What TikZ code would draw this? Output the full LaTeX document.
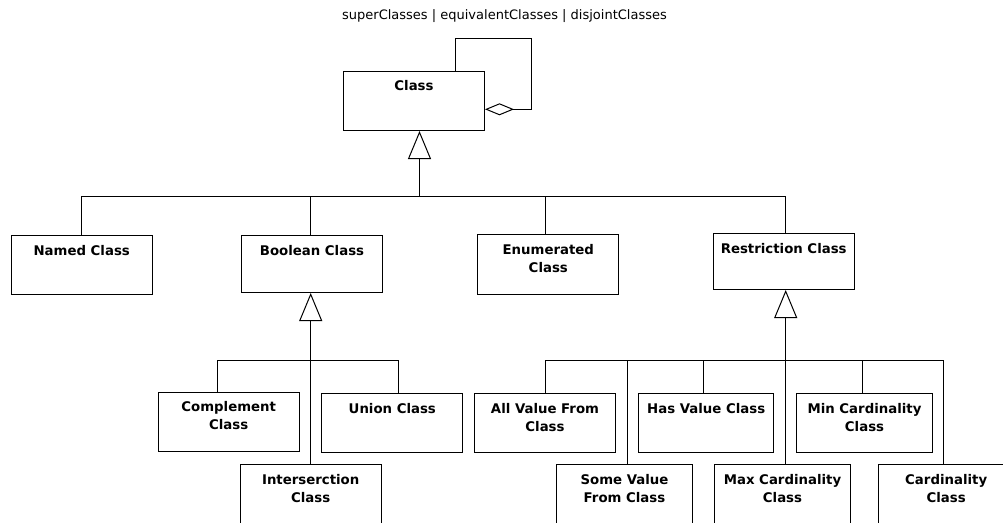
\documentclass[tikz,border=0pt]{standalone}
\usepackage{fontspec}
\newfontfamily\dvs{DejaVu Sans}
\usetikzlibrary{arrows.meta}

\tikzset{
  cls/.style={draw, line width=1pt, inner sep=0pt, anchor=north west,
              minimum width=141pt, minimum height=59pt},
  narrow/.style={minimum width=135.4pt},
  lbl/.style={anchor=north, yshift=-9.8pt, inner sep=0pt, align=center,
              font=\dvs\bfseries\fontsize{13.3}{18}\selectfont},
  wire/.style={line width=1pt},
  gen/.style={wire, -{Triangle[open, length=28pt, width=23pt]}},
  agg/.style={wire, -{Diamond[open, length=29pt, width=12pt]}},
}

\begin{document}
\begin{tikzpicture}[x=1pt, y=-1pt]
  \useasboundingbox (0,0) rectangle (1003,522);
  \fill[white] (0,0) rectangle (1003,522);
  \clip (0,0) rectangle (1003,522);

  % association name over the self-loop
  \node[font=\dvs\fontsize{13}{15}\selectfont, anchor=base, inner sep=0pt] (title)
    at (504.5,19.8) {superClasses | equivalentClasses | disjointClasses};

  % root class
  \node[cls, minimum height=59.3pt, label={[lbl]north:Class}] (class) at (343,70.7) {};

  % first level
  \node[cls, label={[lbl]north:Named Class}] (named) at (10.7,235) {};
  \node[cls, minimum height=57pt, label={[lbl]north:Boolean Class}] (bool) at (241,235) {};
  \node[cls, minimum height=60pt, label={[lbl]north:{Enumerated\\Class}}] (enum) at (477.3,234) {};
  \node[cls, minimum height=56pt, label={[lbl]north:Restriction Class}] (restr) at (712.7,233) {};

  % boolean subclasses
  \node[cls, label={[lbl]north:{Complement\\Class}}] (compl) at (157.7,391.7) {};
  \node[cls, label={[lbl]north:Union Class}] (union) at (321.3,393) {};
  \node[cls, minimum height=60pt, label={[lbl]north:{Interserction\\Class}}] (inter) at (239.7,464.3) {};

  % restriction subclasses
  \node[cls, label={[lbl]north:{All Value From\\Class}}] (allv) at (474,393) {};
  \node[cls, narrow, label={[lbl]north:Has Value Class}] (hasv) at (638,393) {};
  \node[cls, narrow, label={[lbl]north:{Min Cardinality\\Class}}] (minc) at (796.3,393) {};
  \node[cls, narrow, minimum height=60pt, label={[lbl]north:{Some Value\\From Class}}] (somev) at (556.3,464.3) {};
  \node[cls, narrow, minimum height=60pt, label={[lbl]north:{Max Cardinality\\Class}}] (maxc) at (714.3,464.3) {};
  \node[cls, narrow, minimum height=60pt, label={[lbl]north:{Cardinality\\Class}}] (card) at (878,464.3) {};

  % self aggregation loop on Class
  \coordinate (loopA) at (455.3,38);
  \coordinate (loopB) at (531.5,109.3);
  \draw[agg] (loopA |- class.north) -- (loopA) -| (loopB) -- (loopB -| class.east);

  % generalisation tree under Class
  \coordinate (bus0)   at (419.5,196.7);
  \coordinate (sBool)  at (310.7,196.7);
  \coordinate (sEnum)  at (545,196.7);
  \coordinate (sRestr) at (785.7,196.7);
  \draw[gen] (bus0) -- (bus0 |- class.south);
  \draw[wire] (named.north) |- (sRestr) -- (sRestr |- restr.north);
  \draw[wire] (sBool) -- (sBool |- bool.north);
  \draw[wire] (sEnum) -- (sEnum |- enum.north);

  % generalisation tree under Boolean Class
  \coordinate (bTrunk) at (310.7,360.3);
  \coordinate (sCompl) at (217.7,360.3);
  \coordinate (sUnion) at (398,360.3);
  \draw[gen] (bTrunk |- inter.north) -- (bTrunk |- bool.south);
  \draw[wire] (sCompl |- compl.north) -- (sCompl) -- (sUnion) -- (sUnion |- union.north);

  % generalisation tree under Restriction Class
  \coordinate (rTrunk) at (785.7,360.3);
  \coordinate (sAll)   at (545,360.3);
  \coordinate (sSome)  at (627.3,360.3);
  \coordinate (sHas)   at (703.7,360.3);
  \coordinate (sMin)   at (862,360.3);
  \coordinate (sCard)  at (943.7,360.3);
  \draw[gen] (rTrunk |- maxc.north) -- (rTrunk |- restr.south);
  \draw[wire] (sAll |- allv.north) -- (sAll) -- (sCard) -- (sCard |- card.north);
  \draw[wire] (sSome) -- (sSome |- somev.north);
  \draw[wire] (sHas) -- (sHas |- hasv.north);
  \draw[wire] (sMin) -- (sMin |- minc.north);
\end{tikzpicture}
\end{document}
